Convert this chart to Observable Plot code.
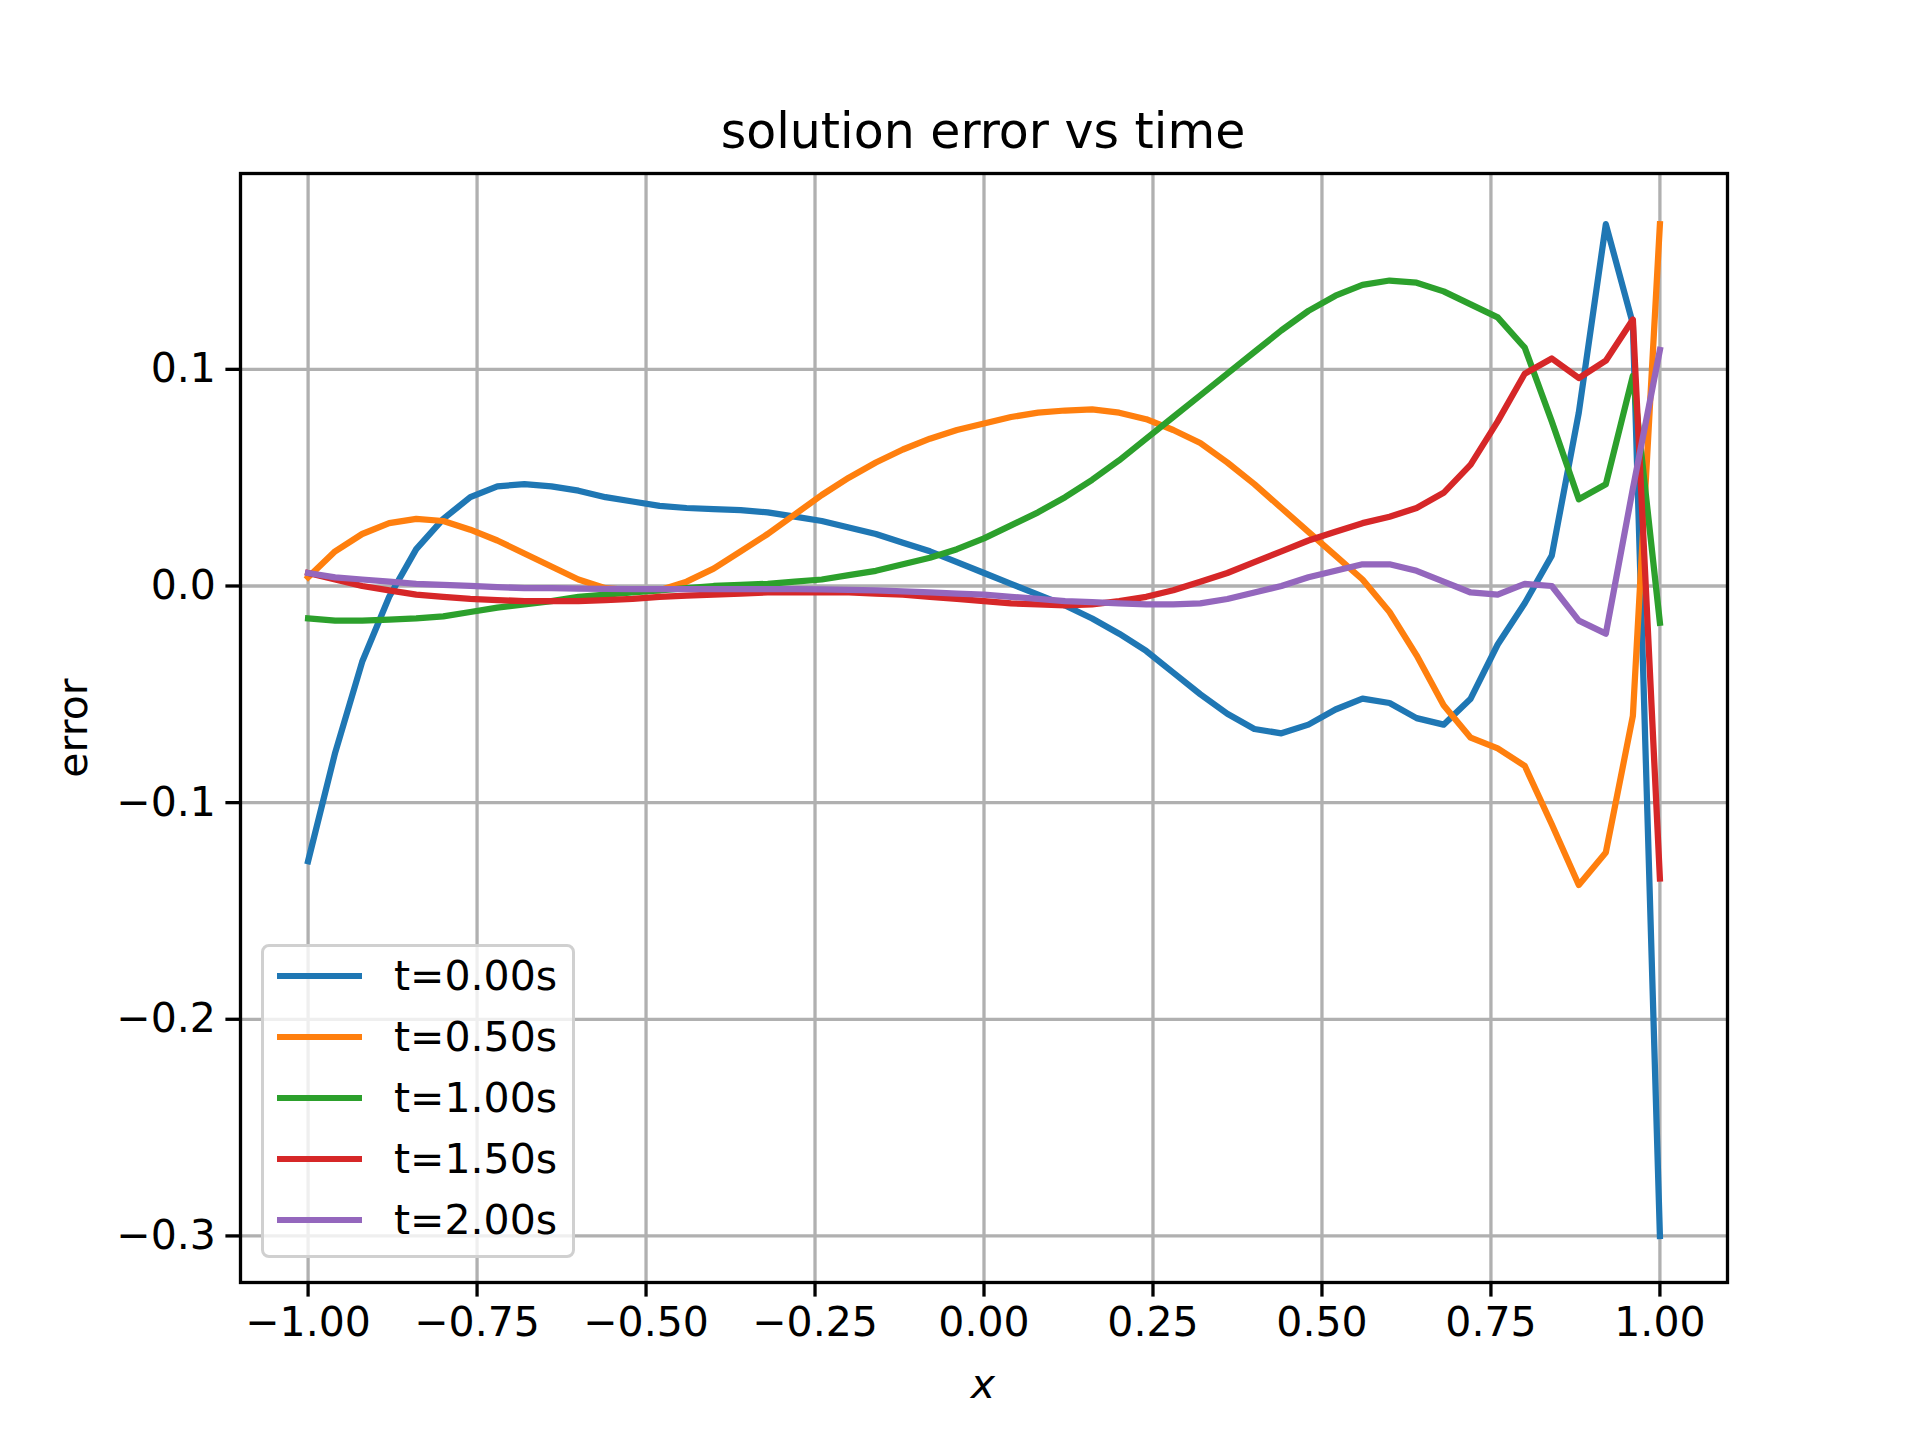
<!DOCTYPE html>
<html><head><meta charset="utf-8">
<script src="https://cdn.jsdelivr.net/npm/d3@7"></script>
<script src="https://cdn.jsdelivr.net/npm/@observablehq/plot@0.6"></script>
<style>
body{margin:0;background:#fff;font-family:"DejaVu Sans";}
#wrap{position:relative;width:1920px;height:1440px;}
#chart{position:absolute;left:0;top:0;}
.t{position:absolute;font-family:"DejaVu Sans";color:#000;white-space:nowrap;}
</style></head><body>
<div id="wrap"><div id="chart"></div></div>
<script>
const xs = d3.range(51).map(i => -1 + i*0.04);
const seriesNames = ["t=0.00s","t=0.50s","t=1.00s","t=1.50s","t=2.00s"];
const colors = ["#1f77b4","#ff7f0e","#2ca02c","#d62728","#9467bd"];
const e0 = [-0.127,-0.077,-0.035,-0.005,0.017,0.031,0.041,0.046,0.047,0.046,0.044,0.041,0.039,0.037,0.036,0.0355,0.035,0.034,0.032,0.030,0.027,0.024,0.020,0.016,0.011,0.006,0.001,-0.004,-0.009,-0.015,-0.022,-0.030,-0.040,-0.050,-0.059,-0.066,-0.068,-0.064,-0.057,-0.052,-0.054,-0.061,-0.064,-0.052,-0.027,-0.008,0.014,0.080,0.167,0.121,-0.300];
const e1 = [0.004,0.016,0.024,0.029,0.031,0.030,0.026,0.021,0.015,0.009,0.003,-0.001,-0.002,-0.002,0.002,0.008,0.016,0.024,0.033,0.042,0.050,0.057,0.063,0.068,0.072,0.075,0.078,0.080,0.081,0.0815,0.080,0.077,0.072,0.066,0.057,0.047,0.036,0.025,0.014,0.003,-0.012,-0.032,-0.055,-0.070,-0.075,-0.083,-0.110,-0.138,-0.123,-0.060,0.167];
const e2 = [-0.015,-0.016,-0.016,-0.0155,-0.015,-0.014,-0.012,-0.010,-0.0085,-0.007,-0.005,-0.004,-0.003,-0.002,-0.001,0,0.0005,0.001,0.002,0.003,0.005,0.007,0.010,0.013,0.017,0.022,0.028,0.034,0.041,0.049,0.058,0.068,0.078,0.088,0.098,0.108,0.118,0.127,0.134,0.139,0.141,0.140,0.136,0.130,0.124,0.110,0.076,0.040,0.047,0.097,-0.017];
const e3 = [0.006,0.003,0.000,-0.002,-0.004,-0.005,-0.006,-0.0065,-0.007,-0.007,-0.007,-0.0065,-0.006,-0.005,-0.0045,-0.004,-0.0035,-0.003,-0.003,-0.003,-0.003,-0.0035,-0.004,-0.005,-0.006,-0.007,-0.008,-0.0085,-0.009,-0.0085,-0.007,-0.005,-0.002,0.002,0.006,0.011,0.016,0.021,0.025,0.029,0.032,0.036,0.043,0.056,0.076,0.098,0.105,0.096,0.104,0.123,-0.135];
const e4 = [0.006,0.004,0.003,0.002,0.001,0.0005,0,-0.0005,-0.001,-0.001,-0.0012,-0.0013,-0.0014,-0.0015,-0.0015,-0.0015,-0.0015,-0.0015,-0.0015,-0.0016,-0.0018,-0.002,-0.0025,-0.003,-0.0035,-0.004,-0.005,-0.006,-0.007,-0.0075,-0.008,-0.0085,-0.0085,-0.008,-0.006,-0.003,0,0.004,0.007,0.010,0.010,0.007,0.002,-0.003,-0.004,0.001,0,-0.016,-0.022,0.045,0.109];
const xTicks = [-1,-0.75,-0.5,-0.25,0,0.25,0.5,0.75,1];
const yTicks = [-0.3,-0.2,-0.1,0,0.1];

const all = [e0,e1,e2,e3,e4];
const data = [];
all.forEach((arr,k)=>arr.forEach((v,i)=>data.push({x:xs[i],y:v,s:seriesNames[k]})));

const plot = Plot.plot({
  width:1920, height:1440,
  marginLeft:240, marginRight:193, marginTop:173, marginBottom:158,
  style:{fontFamily:"DejaVu Sans", fontSize:"41px", background:"transparent", color:"#000"},
  x:{domain:[-1.1,1.1]},
  y:{domain:[-0.3215,0.1904]},
  color:{domain:seriesNames, range:colors},
  marks:[
    Plot.gridX(xTicks,{stroke:"#b0b0b0",strokeOpacity:1,strokeWidth:3.3}),
    Plot.gridY(yTicks,{stroke:"#b0b0b0",strokeOpacity:1,strokeWidth:3.3}),
    Plot.line(data,{x:"x",y:"y",z:"s",stroke:"s",strokeWidth:6.25,strokeLinejoin:"round",strokeLinecap:"square"}),
    Plot.frame({stroke:"#000",strokeWidth:3.3}),
    Plot.axisX({ticks:xTicks,tickFormat:d3.format(".2f"),tickSize:14.6,tickPadding:10,label:null,strokeWidth:3.3,fontSize:41}),
    Plot.axisY({ticks:yTicks,tickFormat:d3.format(".1f"),tickSize:14.6,tickPadding:10,label:null,strokeWidth:3.3,fontSize:41})
  ]
});
document.getElementById("chart").appendChild(plot);

const wrap = document.getElementById("wrap");
function addText(txt, css){const d=document.createElement("div");d.className="t";d.textContent=txt;Object.assign(d.style,css);wrap.appendChild(d);return d;}
addText("solution error vs time",{left:"983px",top:"131px",fontSize:"49px",transform:"translate(-50%,-50%)"});
addText("x",{left:"983px",top:"1384px",fontSize:"41px",fontStyle:"italic",transform:"translate(-50%,-50%)"});
addText("error",{left:"73px",top:"728px",fontSize:"41px",transform:"translate(-50%,-50%) rotate(-90deg)"});

// legend
const lg=document.createElement("div");
Object.assign(lg.style,{position:"absolute",left:"261px",top:"944px",width:"314px",height:"314px",border:"3px solid #d0d0d0",borderRadius:"8px",background:"rgba(255,255,255,0.8)",boxSizing:"border-box"});
wrap.appendChild(lg);
seriesNames.forEach((n,k)=>{
  const cy=976+k*60.9;
  const ln=document.createElement("div");
  Object.assign(ln.style,{position:"absolute",left:"277px",top:(cy-3)+"px",width:"85px",height:"6.25px",background:colors[k]});
  wrap.appendChild(ln);
  addText(n,{left:"394px",top:cy+"px",fontSize:"41px",transform:"translateY(-50%)"});
});
</script>
</body></html>
